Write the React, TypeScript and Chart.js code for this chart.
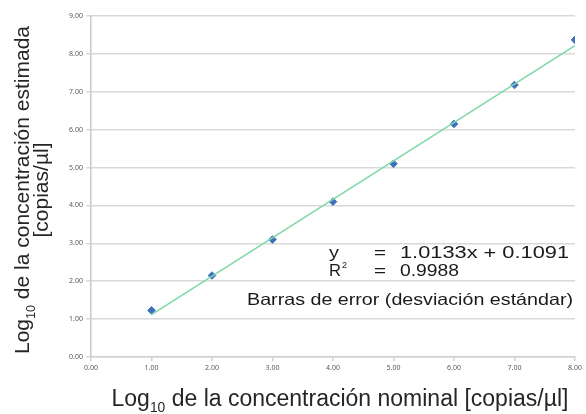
import React, { useEffect, useRef } from "react";
import { Chart, registerables } from "chart.js";

Chart.register(...registerables);

const xValues = [1, 2, 3, 4, 5, 6, 7, 8];
const yValues = [1.23, 2.15, 3.1, 4.1, 5.1, 6.15, 7.18, 8.37];
const trendX = [1, 8];
const trendY = [1.12, 8.22];
const xTicks = [0, 1, 2, 3, 4, 5, 6, 7, 8];
const yTicks = [0, 1, 2, 3, 4, 5, 6, 7, 8, 9];

const eqLine1 = ["y", "=", "1.0133x + 0.1091"];
const eqLine2 = ["R", "2", "=", "0.9988"];
const eqLine3 = "Barras de error (desviación estándar)";
const xTitle = " de la concentración nominal [copias/µl]";
const yTitle1 = " de la concentración estimada";
const yTitle2 = "[copias/µl]";

const FONT = "'Liberation Sans', Arial, sans-serif";

type Part = { t: string; sub?: boolean };

function drawParts(ctx: CanvasRenderingContext2D, parts: Part[], size: number, startX?: number) {
  const widths = parts.map((p) => {
    ctx.font = `${p.sub ? size * 0.6 : size}px ${FONT}`;
    return ctx.measureText(p.t).width;
  });
  const total = widths.reduce((a, b) => a + b, 0);
  let x = startX !== undefined ? startX : -total / 2;
  parts.forEach((p, i) => {
    ctx.font = `${p.sub ? size * 0.6 : size}px ${FONT}`;
    ctx.fillText(p.t, x, p.sub ? size * 0.28 : 0);
    x += widths[i];
  });
}

function fitText(ctx: CanvasRenderingContext2D, text: string, x: number, y: number, size: number, width: number) {
  ctx.font = `${size}px ${FONT}`;
  const w = ctx.measureText(text).width;
  ctx.save();
  ctx.translate(x, y);
  ctx.scale(width / w, 1);
  ctx.fillText(text, 0, 0);
  ctx.restore();
}

const textPlugin = {
  id: "textPlugin",
  afterDraw(chart: any) {
    const ctx: CanvasRenderingContext2D = chart.ctx;
    ctx.save();
    ctx.fillStyle = "#262626";
    ctx.textBaseline = "alphabetic";
    ctx.textAlign = "left";
    // x title
    ctx.save();
    ctx.translate(340, 406);
    drawParts(ctx, [{ t: "Log" }, { t: "10", sub: true }, { t: xTitle }], 23);
    ctx.restore();
    // y title
    ctx.save();
    ctx.translate(29, 190);
    ctx.rotate(-Math.PI / 2);
    drawParts(ctx, [{ t: "Log" }, { t: "10", sub: true }, { t: yTitle1 }], 21);
    ctx.restore();
    ctx.save();
    ctx.translate(48, 190);
    ctx.rotate(-Math.PI / 2);
    drawParts(ctx, [{ t: yTitle2 }], 21);
    ctx.restore();
    // equation
    ctx.fillStyle = "#1a1a1a";
    const fs = 16.5;
    fitText(ctx, eqLine1[0], 329, 258, fs, 10);
    fitText(ctx, eqLine1[1], 374, 258, fs, 12);
    fitText(ctx, eqLine1[2], 400, 258, fs, 169);
    fitText(ctx, eqLine2[0], 329, 276, fs, 12);
    fitText(ctx, eqLine2[1], 342, 268, 9, 5);
    fitText(ctx, eqLine2[2], 374, 276, fs, 12);
    fitText(ctx, eqLine2[3], 400, 276, fs, 59);
    fitText(ctx, eqLine3, 247, 305, fs, 326);
    ctx.restore();
  },
};

export default function App() {
  const ref = useRef<HTMLCanvasElement>(null);
  useEffect(() => {
    document.body.style.margin = "0";
    const chart = new Chart(ref.current!, {
      type: "scatter",
      data: {
        datasets: [
          {
            type: "line",
            label: "trend",
            data: trendX.map((x, i) => ({ x, y: trendY[i] })),
            borderColor: "#7fd8a6",
            borderWidth: 1.6,
            pointRadius: 0,
            fill: false,
          },
          {
            label: "data",
            data: xValues.map((x, i) => ({ x, y: yValues[i] })),
            backgroundColor: "#3f6fbf",
            borderColor: "#3f6fbf",
            pointStyle: "rectRot",
            pointRadius: 3.8,
          },
        ],
      },
      options: {
        animation: false,
        responsive: false,
        maintainAspectRatio: false,
        layout: { padding: { left: 0, right: 11, top: 16, bottom: 0 } },
        plugins: { legend: { display: false }, tooltip: { enabled: false } },
        scales: {
          x: {
            type: "linear",
            min: 0,
            max: 8,
            afterBuildTicks: (s: any) => {
              s.ticks = xTicks.map((v) => ({ value: v }));
            },
            afterFit: (s: any) => {
              s.height = 57;
            },
            ticks: {
              callback: (v: any) => Number(v).toFixed(2),
              font: { size: 7, family: "'Noto Sans', sans-serif" },
              color: "#595959",
              padding: 3,
              maxRotation: 0,
            },
            grid: { drawOnChartArea: false, drawTicks: true, tickLength: 4, color: "#d0d0d0", lineWidth: 1.5 },
            border: { display: true, color: "#d0d0d0", width: 1.5 },
          },
          y: {
            type: "linear",
            min: 0,
            max: 9,
            afterBuildTicks: (s: any) => {
              s.ticks = yTicks.map((v) => ({ value: v }));
            },
            afterFit: (s: any) => {
              s.width = 91;
            },
            ticks: {
              callback: (v: any) => Number(v).toFixed(2),
              font: { size: 7, family: "'Noto Sans', sans-serif" },
              color: "#595959",
              padding: 3,
            },
            grid: { color: "#d9d9d9", lineWidth: 1.5, drawTicks: true, tickLength: 5 },
            border: { display: true, color: "#c8c8c8", width: 1.5 },
          },
        },
      } as any,
      plugins: [textPlugin],
    });
    return () => chart.destroy();
  }, []);
  return (
    <div style={{ position: "absolute", left: 0, top: 0, width: 586, height: 414, background: "#fff" }}>
      <canvas ref={ref} width={586} height={414} style={{ display: "block" }} />
    </div>
  );
}
